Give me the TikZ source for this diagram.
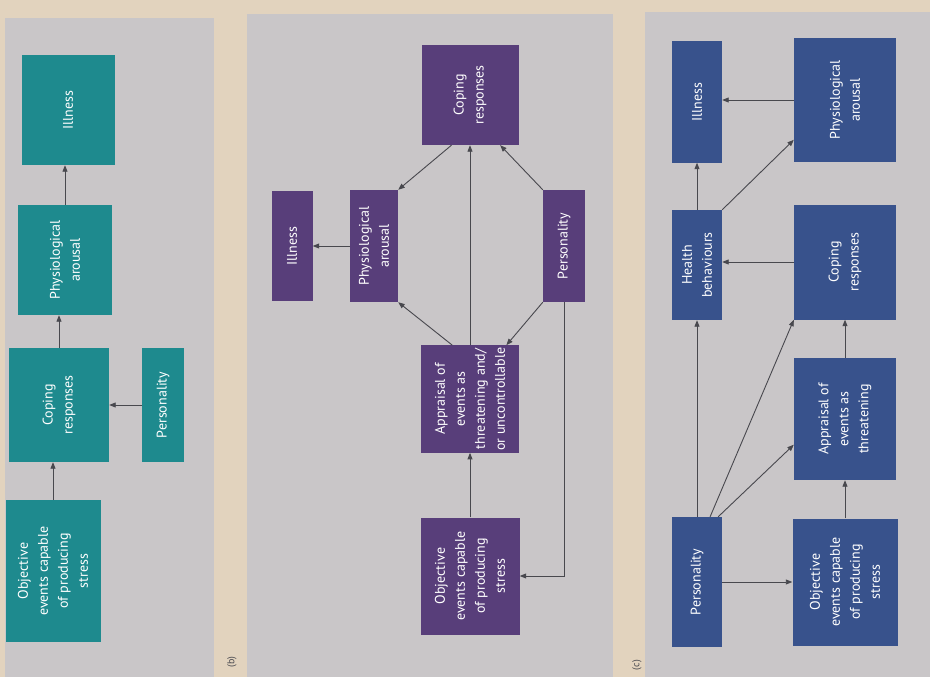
\documentclass[tikz,border=0pt]{standalone}
\usepackage{fontspec}
\usetikzlibrary{arrows.meta,calc}
\newfontfamily\boxfont{PT Sans}
\definecolor{pagebeige}{RGB}{226,211,190}
\definecolor{panelgray}{RGB}{201,198,200}
\definecolor{tealfill}{RGB}{30,138,142}
\definecolor{purplefill}{RGB}{88,62,122}
\definecolor{bluefill}{RGB}{56,82,140}
\definecolor{arrowgray}{RGB}{72,72,78}
\begin{document}
\begin{tikzpicture}[x=1pt, y=-1pt,
    box/.style={rectangle, rotate=90, text=white, align=center, inner sep=2pt,
      font={\boxfont\fontsize{14}{20}\selectfont}},
    tealbox/.style={box, fill=tealfill},
    purplebox/.style={box, fill=purplefill},
    bluebox/.style={box, fill=bluefill},
    arr/.style={draw=arrowgray, line width=0.9pt, -{Triangle[length=6.5pt,width=5pt]}},
    panellabel/.style={rotate=90, text=arrowgray, font={\boxfont\fontsize{10}{12}\selectfont}}]
    \useasboundingbox (0,0) rectangle (930,677);
    \fill[pagebeige] (0,0) rectangle (930,677);
    \fill[panelgray] (5,18) rectangle (214,677);
    \fill[panelgray] (247,14) rectangle (613,677);
    \fill[panelgray] (645,12) rectangle (930,677);

    % (a)
    \node (illA) at (68,110) [tealbox, minimum width=110pt, minimum height=93pt] {Illness};
    \node (phyA) at (65,260) [tealbox, minimum width=110pt, minimum height=94pt] {Physiological\\arousal};
    \node (copA) at (59,405) [tealbox, minimum width=114pt, minimum height=100pt] {Coping\\responses};
    \node (perA) at (163,405) [tealbox, minimum width=114pt, minimum height=42pt] {Personality};
    \node (objA) at (53,571) [tealbox, minimum width=142pt, minimum height=95pt] {Objective\\events capable\\of producing\\stress};
    \draw[arr] (objA.east) -- (objA.east |- copA.west);
    \draw[arr] (copA.east) -- (copA.east |- phyA.west);
    \draw[arr] (phyA.east) -- (phyA.east |- illA.west);
    \draw[arr] (perA.north) -- (perA.north -| copA.south);

    % (b)
    \node (labB) at (232,662) [panellabel] {(b)};
    \node (illB) at (292,246) [purplebox, minimum width=110pt, minimum height=41pt] {Illness};
    \node (phyB) at (374,246) [purplebox, minimum width=112pt, minimum height=48pt] {Physiological\\arousal};
    \node (copB) at (470,95) [purplebox, minimum width=100pt, minimum height=97pt] {Coping\\responses};
    \node (perB) at (564,246) [purplebox, minimum width=112pt, minimum height=42pt] {Personality};
    \node (appB) at (470,399) [purplebox, minimum width=106pt, minimum height=98pt] {Appraisal of\\events as\\threatening and/\\or uncontrollable};
    \node (objB) at (470,576) [purplebox, minimum width=117pt, minimum height=99pt] {Objective\\events capable\\of producing\\stress};
    \draw[arr] (objB.east) -- (appB.west);
    \draw[arr] (perB.west) |- (objB.south);
    \draw[arr] ($(appB.north east)!.32!(appB.south east)$) -- (phyB.south west);
    \draw[arr] (perB.north west) -- ($(appB.north east)!.87!(appB.south east)$);
    \draw[arr] (appB.east) -- (copB.west);
    \draw[arr] (perB.north east) -- ($(copB.north west)!.81!(copB.south west)$);
    \draw[arr] ($(copB.north west)!.31!(copB.south west)$) -- (phyB.south east);
    \draw[arr] (phyB.north) -- (illB.south);

    % (c)
    \node (labC) at (637,665) [panellabel] {(c)};
    \node (illC) at (697,102) [bluebox, minimum width=121pt, minimum height=50pt] {Illness};
    \node (phyC) at (845,100) [bluebox, minimum width=124pt, minimum height=102pt] {Physiological\\arousal};
    \node (heaC) at (697,265) [bluebox, minimum width=110pt, minimum height=50pt] {Health\\behaviours};
    \node (copC) at (845,262) [bluebox, minimum width=115pt, minimum height=102pt] {Coping\\responses};
    \node (appC) at (845,419) [bluebox, minimum width=122pt, minimum height=102pt] {Appraisal of\\events as\\threatening};
    \node (perC) at (697,582) [bluebox, minimum width=130pt, minimum height=50pt] {Personality};
    \node (objC) at (845,582) [bluebox, minimum width=127pt, minimum height=105pt] {Objective\\events capable\\of producing\\stress};
    \draw[arr] (perC.south) -- (objC.north);
    \draw[arr] (perC.east) -- (heaC.west);
    \draw[arr] ($(perC.north east)!.76!(perC.south east)$) -- (copC.north west);
    \draw[arr] ($(perC.north east)!.92!(perC.south east)$) -- ($(appC.north east)!.71!(appC.north west)$);
    \draw[arr] (heaC.south east) -- ($(phyC.north east)!.82!(phyC.north west)$);
    \draw[arr] (heaC.east) -- (illC.west);
    \draw[arr] (phyC.north) -- (phyC.north -| illC.south);
    \draw[arr] (copC.north) -- (copC.north -| heaC.south);
    \draw[arr] (appC.east) -- (copC.west);
    \draw[arr] (objC.east) -- (appC.west);
\end{tikzpicture}
\end{document}
